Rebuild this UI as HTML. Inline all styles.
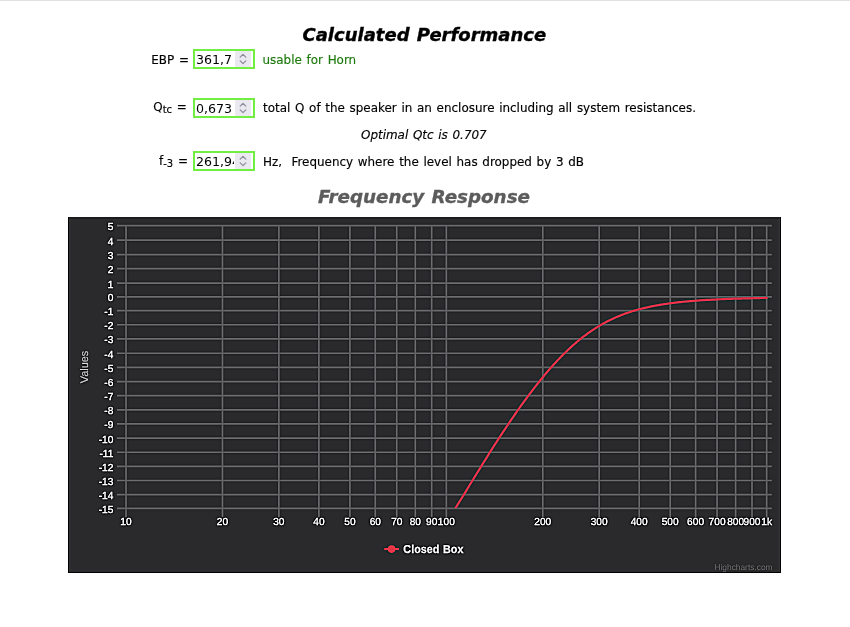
<!DOCTYPE html>
<html><head><meta charset="utf-8"><title>Calculated Performance</title>
<style>
html,body{margin:0;padding:0;background:#fff;}
body{width:850px;height:627px;position:relative;overflow:hidden;font-family:"DejaVu Sans","Liberation Sans",Verdana,sans-serif;font-size:11.95px;word-spacing:0.9px;color:#000;-webkit-text-stroke:0.15px currentColor;}
.t{position:absolute;white-space:nowrap;line-height:1;}
.h{font-weight:bold;font-style:italic;font-size:18px;-webkit-text-stroke:0.35px currentColor;}
.inp{position:absolute;box-sizing:border-box;width:62px;height:20px;border:2px solid #72ee42;background:#fff;}
.inp span{position:absolute;left:1px;top:2px;width:38px;height:14px;overflow:hidden;font-size:12.6px;word-spacing:0;-webkit-text-stroke:0;line-height:14px;white-space:nowrap;}
.inp svg{position:absolute;left:40px;top:0px;}
sub{font-size:10px;vertical-align:baseline;position:relative;top:2.2px;}
</style></head><body>
<div style="position:absolute;left:0;top:0;width:850px;height:1px;background:#e1e1e1;"></div>
<div class="t h" id="title" style="left:302.5px;top:25px;transform:translateY(0.6px);">Calculated Performance</div>

<div class="t" id="l1" style="left:151.3px;top:55px;">EBP =</div>
<div class="inp" style="left:193px;top:49px;"><span>361,7</span><svg width="16" height="16" viewBox="0 0 16 16"><rect width="16" height="16" rx="1.2" fill="#e9e9ef"/><path d="M5.2 6.1L8 3.3L10.8 6.1M5.2 9.9L8 12.7L10.8 9.9" stroke="#8a889a" stroke-width="1.2" fill="none" stroke-linecap="round" stroke-linejoin="round"/></svg></div>
<div class="t" id="r1" style="left:262.5px;top:55px;color:#1d7a0c;">usable for Horn</div>

<div class="t" id="l2" style="left:153.3px;top:102px;">Q<sub>tc</sub> =</div>
<div class="inp" style="left:193px;top:98px;"><span>0,673</span><svg width="16" height="16" viewBox="0 0 16 16"><rect width="16" height="16" rx="1.2" fill="#e9e9ef"/><path d="M5.2 6.1L8 3.3L10.8 6.1M5.2 9.9L8 12.7L10.8 9.9" stroke="#8a889a" stroke-width="1.2" fill="none" stroke-linecap="round" stroke-linejoin="round"/></svg></div>
<div class="t" id="r2" style="left:263px;top:103px;">total Q of the speaker in an enclosure including all system resistances.</div>

<div class="t" id="opt" style="left:361px;top:130px;font-style:italic;">Optimal Qtc is 0.707</div>

<div class="t" id="l3" style="left:159px;top:156px;">f<sub>-3</sub> =</div>
<div class="inp" style="left:193px;top:151px;"><span>261,94</span><svg width="16" height="16" viewBox="0 0 16 16"><rect width="16" height="16" rx="1.2" fill="#e9e9ef"/><path d="M5.2 6.1L8 3.3L10.8 6.1M5.2 9.9L8 12.7L10.8 9.9" stroke="#8a889a" stroke-width="1.2" fill="none" stroke-linecap="round" stroke-linejoin="round"/></svg></div>
<div class="t" id="r3" style="left:263px;top:157px;">Hz,&nbsp; Frequency where the level has dropped by 3 dB</div>

<div class="t h" id="ct" style="left:318px;top:188px;color:#5c5c5c;font-size:18.3px;word-spacing:1px;">Frequency Response</div>
<div id="chartwrap" style="position:absolute;left:68px;top:217.05px;width:713.2px;height:356.3px;overflow:hidden;"><svg id="chart" width="714.78" height="358.28" viewBox="0 0 802 402" style="position:absolute;left:0;top:0;text-rendering:geometricPrecision;font-family:'Liberation Sans',Arial,Helvetica,sans-serif;">
<defs><filter id="sharp" x="0" y="0" width="100%" height="100%" color-interpolation-filters="sRGB"><feGaussianBlur stdDeviation="0.9" result="b"/><feComposite in="SourceGraphic" in2="b" operator="arithmetic" k1="0" k2="1.9" k3="-0.9" k4="0"/></filter>
<clipPath id="pc"><rect x="54.98" y="9.65" width="734.70" height="317.25"/></clipPath></defs>
<g filter="url(#sharp)">
<rect x="-5" y="-5" width="810" height="410" fill="#2a2a2c"/>
<rect x="0" y="0" width="800" height="2.1" fill="#1f1f21"/><rect x="0" y="0" width="1.12" height="400" fill="#060607"/><rect x="798.99" y="0" width="3" height="400" fill="#060607"/><rect x="0" y="398.15" width="804" height="3" fill="#060607"/>
<path d="M54.98 9.65H789.68 M54.98 25.86H789.68 M54.98 42.24H789.68 M54.98 57.95H789.68 M54.98 74.11H789.68 M54.98 89.71H789.68 M54.98 105.08H789.68 M54.98 120.90H789.68 M54.98 136.83H789.68 M54.98 152.88H789.68 M54.98 168.75H789.68 M54.98 184.62H789.68 M54.98 200.48H789.68 M54.98 216.34H789.68 M54.98 232.21H789.68 M54.98 248.07H789.68 M54.98 263.94H789.68 M54.98 279.80H789.68 M54.98 295.66H789.68 M54.98 311.53H789.68 M54.98 326.90H789.68 M65.11 9.15V336.90 M173.31 9.15V336.90 M236.60 9.15V336.90 M281.50 9.15V336.90 M316.33 9.15V336.90 M344.79 9.15V336.90 M368.85 9.15V336.90 M389.70 9.15V336.90 M408.08 9.15V336.90 M424.53 9.15V336.90 M532.72 9.15V336.90 M596.01 9.15V336.90 M640.92 9.15V336.90 M675.75 9.15V336.90 M704.21 9.15V336.90 M728.27 9.15V336.90 M749.11 9.15V336.90 M767.50 9.15V336.90 M783.94 9.15V336.90" stroke="#59595c" stroke-width="1.9" fill="none"/>
<path d="M424.5 343.5 L425.7 341.5 L426.9 339.6 L428.1 337.6 L429.3 335.6 L430.5 333.7 L431.7 331.7 L432.9 329.8 L434.1 327.8 L435.3 325.9 L436.5 323.9 L437.7 322.0 L438.9 320.0 L440.1 318.1 L441.3 316.2 L442.5 314.2 L443.7 312.3 L444.9 310.3 L446.1 308.4 L447.3 306.4 L448.5 304.4 L449.7 302.4 L450.9 300.4 L452.1 298.5 L453.3 296.5 L454.5 294.6 L455.7 292.6 L456.9 290.6 L458.1 288.7 L459.3 286.7 L460.5 284.8 L461.7 282.9 L462.9 280.9 L464.1 279.0 L465.3 277.1 L466.5 275.1 L467.7 273.2 L468.9 271.3 L470.1 269.4 L471.3 267.5 L472.4 265.6 L473.6 263.7 L474.8 261.8 L476.0 260.0 L477.2 258.1 L478.4 256.2 L479.6 254.3 L480.8 252.5 L482.0 250.6 L483.2 248.8 L484.4 247.0 L485.6 245.1 L486.8 243.3 L488.0 241.5 L489.2 239.7 L490.4 237.9 L491.6 236.1 L492.8 234.3 L494.0 232.5 L495.2 230.7 L496.4 228.9 L497.6 227.2 L498.8 225.4 L500.0 223.7 L501.2 221.9 L502.4 220.2 L503.6 218.5 L504.8 216.8 L506.0 215.1 L507.2 213.4 L508.4 211.7 L509.6 210.0 L510.8 208.4 L512.0 206.7 L513.2 205.1 L514.4 203.4 L515.6 201.8 L516.8 200.2 L518.0 198.6 L519.2 197.0 L520.4 195.4 L521.6 193.9 L522.8 192.3 L524.0 190.8 L525.2 189.2 L526.4 187.7 L527.6 186.2 L528.8 184.7 L530.0 183.2 L531.2 181.7 L532.4 180.3 L533.6 178.8 L534.7 177.4 L535.9 175.9 L537.1 174.5 L538.3 173.1 L539.5 171.7 L540.7 170.4 L541.9 169.0 L543.1 167.7 L544.3 166.3 L545.5 165.0 L546.7 163.7 L547.9 162.4 L549.1 161.1 L550.3 159.9 L551.5 158.6 L552.7 157.4 L553.9 156.1 L555.1 154.9 L556.3 153.7 L557.5 152.6 L558.7 151.4 L559.9 150.2 L561.1 149.1 L562.3 147.9 L563.5 146.8 L564.7 145.7 L565.9 144.6 L567.1 143.6 L568.3 142.5 L569.5 141.5 L570.7 140.4 L571.9 139.4 L573.1 138.4 L574.3 137.4 L575.5 136.5 L576.7 135.5 L577.9 134.6 L579.1 133.7 L580.3 132.8 L581.5 131.9 L582.7 131.0 L583.9 130.1 L585.1 129.3 L586.3 128.5 L587.5 127.7 L588.7 126.8 L589.9 126.1 L591.1 125.3 L592.3 124.5 L593.5 123.8 L594.7 123.0 L595.8 122.3 L597.0 121.6 L598.2 120.9 L599.4 120.2 L600.6 119.5 L601.8 118.9 L603.0 118.3 L604.2 117.6 L605.4 117.0 L606.6 116.4 L607.8 115.8 L609.0 115.2 L610.2 114.7 L611.4 114.1 L612.6 113.5 L613.8 113.0 L615.0 112.5 L616.2 112.0 L617.4 111.5 L618.6 111.0 L619.8 110.5 L621.0 110.0 L622.2 109.5 L623.4 109.1 L624.6 108.6 L625.8 108.2 L627.0 107.8 L628.2 107.4 L629.4 107.0 L630.6 106.6 L631.8 106.2 L633.0 105.8 L634.2 105.4 L635.4 105.1 L636.6 104.7 L637.8 104.4 L639.0 104.0 L640.2 103.7 L641.4 103.4 L642.6 103.1 L643.8 102.8 L645.0 102.5 L646.2 102.2 L647.4 101.9 L648.6 101.6 L649.8 101.4 L651.0 101.1 L652.2 100.8 L653.4 100.6 L654.6 100.3 L655.8 100.1 L657.0 99.9 L658.1 99.6 L659.3 99.4 L660.5 99.2 L661.7 99.0 L662.9 98.8 L664.1 98.6 L665.3 98.4 L666.5 98.2 L667.7 98.0 L668.9 97.8 L670.1 97.6 L671.3 97.4 L672.5 97.3 L673.7 97.1 L674.9 96.9 L676.1 96.8 L677.3 96.6 L678.5 96.5 L679.7 96.3 L680.9 96.2 L682.1 96.0 L683.3 95.9 L684.5 95.8 L685.7 95.6 L686.9 95.5 L688.1 95.4 L689.3 95.2 L690.5 95.1 L691.7 95.0 L692.9 94.9 L694.1 94.8 L695.3 94.7 L696.5 94.6 L697.7 94.5 L698.9 94.4 L700.1 94.3 L701.3 94.2 L702.5 94.1 L703.7 94.0 L704.9 93.9 L706.1 93.8 L707.3 93.7 L708.5 93.6 L709.7 93.5 L710.9 93.4 L712.1 93.4 L713.3 93.3 L714.5 93.2 L715.7 93.1 L716.9 93.1 L718.1 93.0 L719.2 92.9 L720.4 92.9 L721.6 92.8 L722.8 92.7 L724.0 92.7 L725.2 92.6 L726.4 92.6 L727.6 92.5 L728.8 92.4 L730.0 92.4 L731.2 92.3 L732.4 92.3 L733.6 92.2 L734.8 92.2 L736.0 92.1 L737.2 92.1 L738.4 92.0 L739.6 92.0 L740.8 91.9 L742.0 91.9 L743.2 91.8 L744.4 91.8 L745.6 91.8 L746.8 91.7 L748.0 91.7 L749.2 91.6 L750.4 91.6 L751.6 91.6 L752.8 91.5 L754.0 91.5 L755.2 91.5 L756.4 91.4 L757.6 91.4 L758.8 91.4 L760.0 91.3 L761.2 91.3 L762.4 91.3 L763.6 91.2 L764.8 91.2 L766.0 91.2 L767.2 91.1 L768.4 91.1 L769.6 91.1 L770.8 91.1 L772.0 91.0 L773.2 91.0 L774.4 91.0 L775.6 91.0 L776.8 90.9 L778.0 90.9 L779.2 90.9 L780.3 90.9 L781.5 90.9 L782.7 90.8 L783.9 90.8" stroke="#c43146" stroke-width="2.5" fill="none" stroke-linejoin="round" stroke-linecap="round" clip-path="url(#pc)"/>
<text x="50.9" y="14.7" text-anchor="end" font-size="11.4" fill="#d6d6d9" stroke="#d6d6d9" stroke-width="0.35">5</text>
<text x="50.9" y="31.0" text-anchor="end" font-size="11.4" fill="#d6d6d9" stroke="#d6d6d9" stroke-width="0.35">4</text>
<text x="50.9" y="47.3" text-anchor="end" font-size="11.4" fill="#d6d6d9" stroke="#d6d6d9" stroke-width="0.35">3</text>
<text x="50.9" y="63.1" text-anchor="end" font-size="11.4" fill="#d6d6d9" stroke="#d6d6d9" stroke-width="0.35">2</text>
<text x="50.9" y="79.2" text-anchor="end" font-size="11.4" fill="#d6d6d9" stroke="#d6d6d9" stroke-width="0.35">1</text>
<text x="50.9" y="94.8" text-anchor="end" font-size="11.4" fill="#d6d6d9" stroke="#d6d6d9" stroke-width="0.35">0</text>
<text x="50.9" y="110.2" text-anchor="end" font-size="11.4" fill="#d6d6d9" stroke="#d6d6d9" stroke-width="0.35">-1</text>
<text x="50.9" y="126.0" text-anchor="end" font-size="11.4" fill="#d6d6d9" stroke="#d6d6d9" stroke-width="0.35">-2</text>
<text x="50.9" y="141.9" text-anchor="end" font-size="11.4" fill="#d6d6d9" stroke="#d6d6d9" stroke-width="0.35">-3</text>
<text x="50.9" y="158.0" text-anchor="end" font-size="11.4" fill="#d6d6d9" stroke="#d6d6d9" stroke-width="0.35">-4</text>
<text x="50.9" y="173.9" text-anchor="end" font-size="11.4" fill="#d6d6d9" stroke="#d6d6d9" stroke-width="0.35">-5</text>
<text x="50.9" y="189.7" text-anchor="end" font-size="11.4" fill="#d6d6d9" stroke="#d6d6d9" stroke-width="0.35">-6</text>
<text x="50.9" y="205.6" text-anchor="end" font-size="11.4" fill="#d6d6d9" stroke="#d6d6d9" stroke-width="0.35">-7</text>
<text x="50.9" y="221.4" text-anchor="end" font-size="11.4" fill="#d6d6d9" stroke="#d6d6d9" stroke-width="0.35">-8</text>
<text x="50.9" y="237.3" text-anchor="end" font-size="11.4" fill="#d6d6d9" stroke="#d6d6d9" stroke-width="0.35">-9</text>
<text x="50.9" y="253.2" text-anchor="end" font-size="11.4" fill="#d6d6d9" stroke="#d6d6d9" stroke-width="0.35">-10</text>
<text x="50.9" y="269.0" text-anchor="end" font-size="11.4" fill="#d6d6d9" stroke="#d6d6d9" stroke-width="0.35">-11</text>
<text x="50.9" y="284.9" text-anchor="end" font-size="11.4" fill="#d6d6d9" stroke="#d6d6d9" stroke-width="0.35">-12</text>
<text x="50.9" y="300.8" text-anchor="end" font-size="11.4" fill="#d6d6d9" stroke="#d6d6d9" stroke-width="0.35">-13</text>
<text x="50.9" y="316.6" text-anchor="end" font-size="11.4" fill="#d6d6d9" stroke="#d6d6d9" stroke-width="0.35">-14</text>
<text x="50.9" y="332.0" text-anchor="end" font-size="11.4" fill="#d6d6d9" stroke="#d6d6d9" stroke-width="0.35">-15</text>
<text x="65.1" y="346.0" text-anchor="middle" font-size="11.4" fill="#d6d6d9" stroke="#d6d6d9" stroke-width="0.35">10</text>
<text x="173.3" y="346.0" text-anchor="middle" font-size="11.4" fill="#d6d6d9" stroke="#d6d6d9" stroke-width="0.35">20</text>
<text x="236.6" y="346.0" text-anchor="middle" font-size="11.4" fill="#d6d6d9" stroke="#d6d6d9" stroke-width="0.35">30</text>
<text x="281.5" y="346.0" text-anchor="middle" font-size="11.4" fill="#d6d6d9" stroke="#d6d6d9" stroke-width="0.35">40</text>
<text x="316.3" y="346.0" text-anchor="middle" font-size="11.4" fill="#d6d6d9" stroke="#d6d6d9" stroke-width="0.35">50</text>
<text x="344.8" y="346.0" text-anchor="middle" font-size="11.4" fill="#d6d6d9" stroke="#d6d6d9" stroke-width="0.35">60</text>
<text x="368.9" y="346.0" text-anchor="middle" font-size="11.4" fill="#d6d6d9" stroke="#d6d6d9" stroke-width="0.35">70</text>
<text x="389.7" y="346.0" text-anchor="middle" font-size="11.4" fill="#d6d6d9" stroke="#d6d6d9" stroke-width="0.35">80</text>
<text x="408.1" y="346.0" text-anchor="middle" font-size="11.4" fill="#d6d6d9" stroke="#d6d6d9" stroke-width="0.35">90</text>
<text x="424.5" y="346.0" text-anchor="middle" font-size="11.4" fill="#d6d6d9" stroke="#d6d6d9" stroke-width="0.35">100</text>
<text x="532.7" y="346.0" text-anchor="middle" font-size="11.4" fill="#d6d6d9" stroke="#d6d6d9" stroke-width="0.35">200</text>
<text x="596.0" y="346.0" text-anchor="middle" font-size="11.4" fill="#d6d6d9" stroke="#d6d6d9" stroke-width="0.35">300</text>
<text x="640.9" y="346.0" text-anchor="middle" font-size="11.4" fill="#d6d6d9" stroke="#d6d6d9" stroke-width="0.35">400</text>
<text x="675.7" y="346.0" text-anchor="middle" font-size="11.4" fill="#d6d6d9" stroke="#d6d6d9" stroke-width="0.35">500</text>
<text x="704.2" y="346.0" text-anchor="middle" font-size="11.4" fill="#d6d6d9" stroke="#d6d6d9" stroke-width="0.35">600</text>
<text x="728.3" y="346.0" text-anchor="middle" font-size="11.4" fill="#d6d6d9" stroke="#d6d6d9" stroke-width="0.35">700</text>
<text x="749.1" y="346.0" text-anchor="middle" font-size="11.4" fill="#d6d6d9" stroke="#d6d6d9" stroke-width="0.35">800</text>
<text x="767.5" y="346.0" text-anchor="middle" font-size="11.4" fill="#d6d6d9" stroke="#d6d6d9" stroke-width="0.35">900</text>
<text x="783.9" y="346.0" text-anchor="middle" font-size="11.4" fill="#d6d6d9" stroke="#d6d6d9" stroke-width="0.35">1k</text>
<text x="22.7" y="168.3" transform="rotate(-90 22.7 168.3)" text-anchor="middle" font-size="12.3" fill="#A0A0A3" stroke="#A0A0A3" stroke-width="0.2">Values</text>
<path d="M354.9 372.6H371.3" stroke="#dc3545" stroke-width="2.3"/><circle cx="363.1" cy="372.6" r="4.3" fill="#dc3545"/>
<text x="376.3" y="376.7" font-size="12.8" textLength="67.4" lengthAdjust="spacingAndGlyphs" font-weight="bold" fill="#d4d4d7" stroke="#d4d4d7" stroke-width="0.3">Closed Box</text>
<text x="790.5" y="395.7" text-anchor="end" font-size="9.4" fill="#5c5c5e">Highcharts.com</text>
</g>
</svg></div>
</body></html>
